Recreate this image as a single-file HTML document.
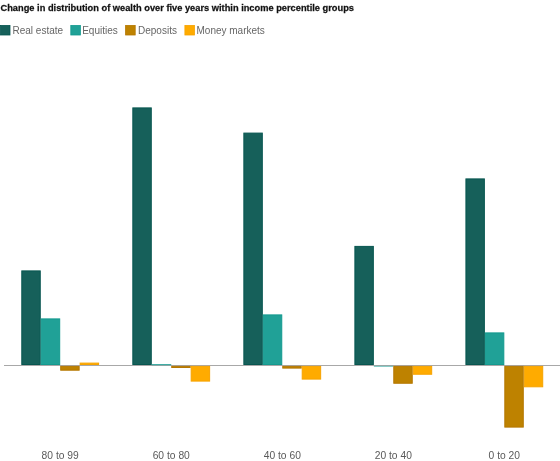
<!DOCTYPE html>
<html><head><meta charset="utf-8"><style>
html,body{margin:0;padding:0;background:#fff;width:560px;height:461px;overflow:hidden}
svg{position:absolute;left:0;top:0;display:block;will-change:transform}
text{font-family:"Liberation Sans",sans-serif}
.title{font-weight:bold;font-size:9.8px;fill:#111;stroke:#111;stroke-width:0.25px}
.lg{font-size:10px;fill:#666}
.ax{font-size:11.2px;fill:#5a5a5a}
</style></head><body>
<svg width="560" height="461" viewBox="0 0 560 461">
<rect x="0" y="0" width="560" height="461" fill="#fff"/>
<g transform="translate(0.5,10.75) scale(0.948,1)"><text x="0" y="0" class="title">Change in distribution of wealth over five years within income percentile groups</text></g>
<rect x="0.40" y="25.4" width="9.6" height="9.6" fill="#16605a" stroke="#075650" stroke-width="0.8"/>
<text x="12.5" y="33.9" class="lg">Real estate</text>
<rect x="70.80" y="25.4" width="9.6" height="9.6" fill="#20a197" stroke="#139a8f" stroke-width="0.8"/>
<text x="82.2" y="33.9" class="lg">Equities</text>
<rect x="125.60" y="25.4" width="9.6" height="9.6" fill="#be8200" stroke="#b57700" stroke-width="0.8"/>
<text x="138" y="33.9" class="lg">Deposits</text>
<rect x="184.90" y="25.4" width="9.6" height="9.6" fill="#ffab00" stroke="#f7a300" stroke-width="0.8"/>
<text x="196.5" y="33.9" class="lg">Money markets</text>
<rect x="4" y="365" width="556" height="1" fill="#a8a8a8"/>
<rect x="21.80" y="270.90" width="18.45" height="93.60" fill="#16605a" stroke="#075650" stroke-width="1"/><rect x="41.25" y="318.90" width="18.45" height="45.60" fill="#20a197" stroke="#139a8f" stroke-width="1"/><rect x="60.70" y="366.40" width="18.45" height="3.80" fill="#be8200" stroke="#b57700" stroke-width="1"/><rect x="80.15" y="363.10" width="18.45" height="1.40" fill="#ffab00" stroke="#f7a300" stroke-width="1"/><rect x="132.83" y="107.90" width="18.45" height="256.60" fill="#16605a" stroke="#075650" stroke-width="1"/><rect x="151.78" y="364.20" width="19.45" height="1.00" fill="#139a8f"/><rect x="171.73" y="366.40" width="18.45" height="1.10" fill="#be8200" stroke="#b57700" stroke-width="1"/><rect x="191.18" y="366.40" width="18.45" height="14.70" fill="#ffab00" stroke="#f7a300" stroke-width="1"/><rect x="243.86" y="133.10" width="18.45" height="231.40" fill="#16605a" stroke="#075650" stroke-width="1"/><rect x="263.31" y="314.90" width="18.45" height="49.60" fill="#20a197" stroke="#139a8f" stroke-width="1"/><rect x="282.76" y="366.40" width="18.45" height="1.70" fill="#be8200" stroke="#b57700" stroke-width="1"/><rect x="302.21" y="366.40" width="18.45" height="12.70" fill="#ffab00" stroke="#f7a300" stroke-width="1"/><rect x="354.89" y="246.40" width="18.45" height="118.10" fill="#16605a" stroke="#075650" stroke-width="1"/><rect x="373.84" y="365.90" width="19.45" height="0.60" fill="#139a8f"/><rect x="393.79" y="366.40" width="18.45" height="16.85" fill="#be8200" stroke="#b57700" stroke-width="1"/><rect x="413.24" y="366.40" width="18.45" height="7.85" fill="#ffab00" stroke="#f7a300" stroke-width="1"/><rect x="465.92" y="178.90" width="18.45" height="185.60" fill="#16605a" stroke="#075650" stroke-width="1"/><rect x="485.37" y="332.90" width="18.45" height="31.60" fill="#20a197" stroke="#139a8f" stroke-width="1"/><rect x="504.82" y="366.40" width="18.45" height="60.70" fill="#be8200" stroke="#b57700" stroke-width="1"/><rect x="524.27" y="366.40" width="18.45" height="20.40" fill="#ffab00" stroke="#f7a300" stroke-width="1"/>
<g transform="translate(60.20,458.9) scale(0.92,1)"><text x="0" y="0" text-anchor="middle" class="ax">80 to 99</text></g><g transform="translate(171.23,458.9) scale(0.92,1)"><text x="0" y="0" text-anchor="middle" class="ax">60 to 80</text></g><g transform="translate(282.26,458.9) scale(0.92,1)"><text x="0" y="0" text-anchor="middle" class="ax">40 to 60</text></g><g transform="translate(393.29,458.9) scale(0.92,1)"><text x="0" y="0" text-anchor="middle" class="ax">20 to 40</text></g><g transform="translate(504.32,458.9) scale(0.92,1)"><text x="0" y="0" text-anchor="middle" class="ax">0 to 20</text></g>
</svg>
</body></html>
